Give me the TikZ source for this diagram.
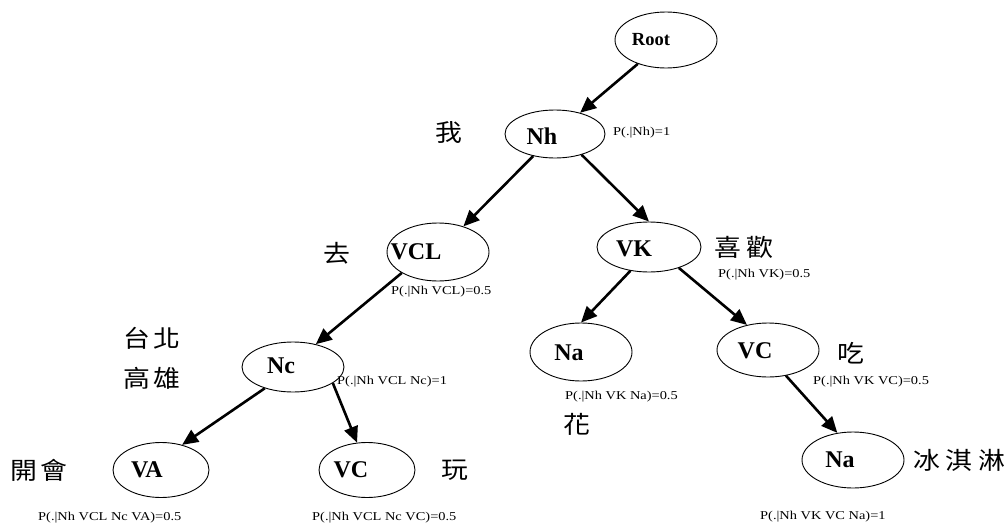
\documentclass[tikz,border=0pt]{standalone}
\usepackage{fontspec}
\usepackage{graphicx}
\setmainfont{Liberation Serif}
\newfontfamily\cjk{Noto Sans CJK TC}
\usetikzlibrary{shapes.geometric,arrows.meta}
\newcommand{\probtxt}[1]{\scalebox{1.2}[1]{#1}}
\newcommand{\zhtxt}[1]{\scalebox{1.12}[1]{\cjk #1}}
\newcommand{\zgap}{\hspace{3pt}}
\begin{document}
\begin{tikzpicture}[x=1pt,y=-1pt,
  ell/.style={draw,ellipse,line width=0.9pt,inner sep=0pt,minimum width=102pt,minimum height=54pt},
  lbl/.style={font=\bfseries\fontsize{24}{24}\selectfont,inner sep=0pt},
  prob/.style={font=\fontsize{12}{12}\selectfont,inner sep=0pt,anchor=west},
  zh/.style={font=\fontsize{24}{24}\selectfont,inner sep=0pt},
  conn/.style={line width=2.6pt,-{Triangle[length=16pt,width=14pt]}}]
\useasboundingbox (0,0) rectangle (1007,525);
% ellipses
\node[ell,minimum height=56pt] (root) at (666,40) {};
\node[ell,minimum width=100pt,minimum height=48pt] (nh) at (555,134) {};
\node[ell,minimum height=58pt] (vcl) at (438,252) {};
\node[ell,minimum width=104pt,minimum height=50pt] (vk) at (649,247) {};
\node[ell,minimum height=50pt] (nc) at (293,367) {};
\node[ell,minimum height=58pt] (na1) at (581,352) {};
\node[ell] (vc1) at (768,350) {};
\node[ell,minimum width=96pt,minimum height=55pt] (va) at (161,470) {};
\node[ell,minimum width=96pt,minimum height=55pt] (vcb) at (367,470) {};
\node[ell,minimum height=56pt] (na2) at (853,460) {};
% labels
\node[lbl,font=\bfseries\fontsize{18.5}{18.5}\selectfont] (rootl) at (651,40) {Root};
\node[lbl] (nhl) at (542,136) {Nh};
\node[lbl] (vcll) at (416,252) {VCL};
\node[lbl] (vkl) at (634,249) {VK};
\node[lbl] (ncl) at (281,366) {Nc};
\node[lbl] (na1l) at (569,353) {Na};
\node[lbl] (vc1l) at (755,351) {VC};
\node[lbl] (val) at (147,470) {VA};
\node[lbl] (vcbl) at (351,470) {VC};
\node[lbl] (na2l) at (840,460) {Na};
% chinese
\node[zh] (w1) at (449,133) {\zhtxt{我}};
\node[zh] (w2) at (337,253) {\zhtxt{去}};
\node[zh] (w3) at (744,247) {\zhtxt{喜\hspace{5pt}歡}};
\node[zh] (w4) at (152,338) {\zhtxt{台\zgap 北}};
\node[zh] (w5) at (152,378) {\zhtxt{高\zgap 雄}};
\node[zh] (w6) at (577,424) {\zhtxt{花}};
\node[zh] (w7) at (851,353) {\zhtxt{吃}};
\node[zh] (w8) at (39,470) {\zhtxt{開\zgap 會}};
\node[zh] (w9) at (455,470) {\zhtxt{玩}};
\node[zh] (w10) at (959,460) {\zhtxt{冰\hspace{5pt}淇\hspace{5pt}淋}};
% probabilities
\node[prob] (p1) at (613,133) {\probtxt{P(.|Nh)=1}};
\node[prob] (p2) at (391,292) {\probtxt{P(.|Nh VCL)=0.5}};
\node[prob] (p3) at (718,275) {\probtxt{P(.|Nh VK)=0.5}};
\node[prob] (p4) at (337,382) {\probtxt{P(.|Nh VCL Nc)=1}};
\node[prob] (p5) at (565,397) {\probtxt{P(.|Nh VK Na)=0.5}};
\node[prob] (p6) at (813,382) {\probtxt{P(.|Nh VK VC)=0.5}};
\node[prob] (p7) at (38,518) {\probtxt{P(.|Nh VCL Nc VA)=0.5}};
\node[prob] (p8) at (312,518) {\probtxt{P(.|Nh VCL Nc VC)=0.5}};
\node[prob] (p9) at (760,517) {\probtxt{P(.|Nh VK VC Na)=1}};
% connectors
\draw[conn] (root) -- (nh);
\draw[conn] (nh) -- (vcl);
\draw[conn] (nh.-38) -- (vk.north);
\draw[conn] (vcl.210) -- (nc.45);
\draw[conn] (nc.217) -- (va.50);
\draw[conn] (nc.-22) -- (vcb.110);
\draw[conn] (vk.232) -- (na1.north);
\draw[conn] (vk.-35) -- (vc1.130);
\draw[conn] (vc1.-55) -- (na2.120);
\end{tikzpicture}
\end{document}
